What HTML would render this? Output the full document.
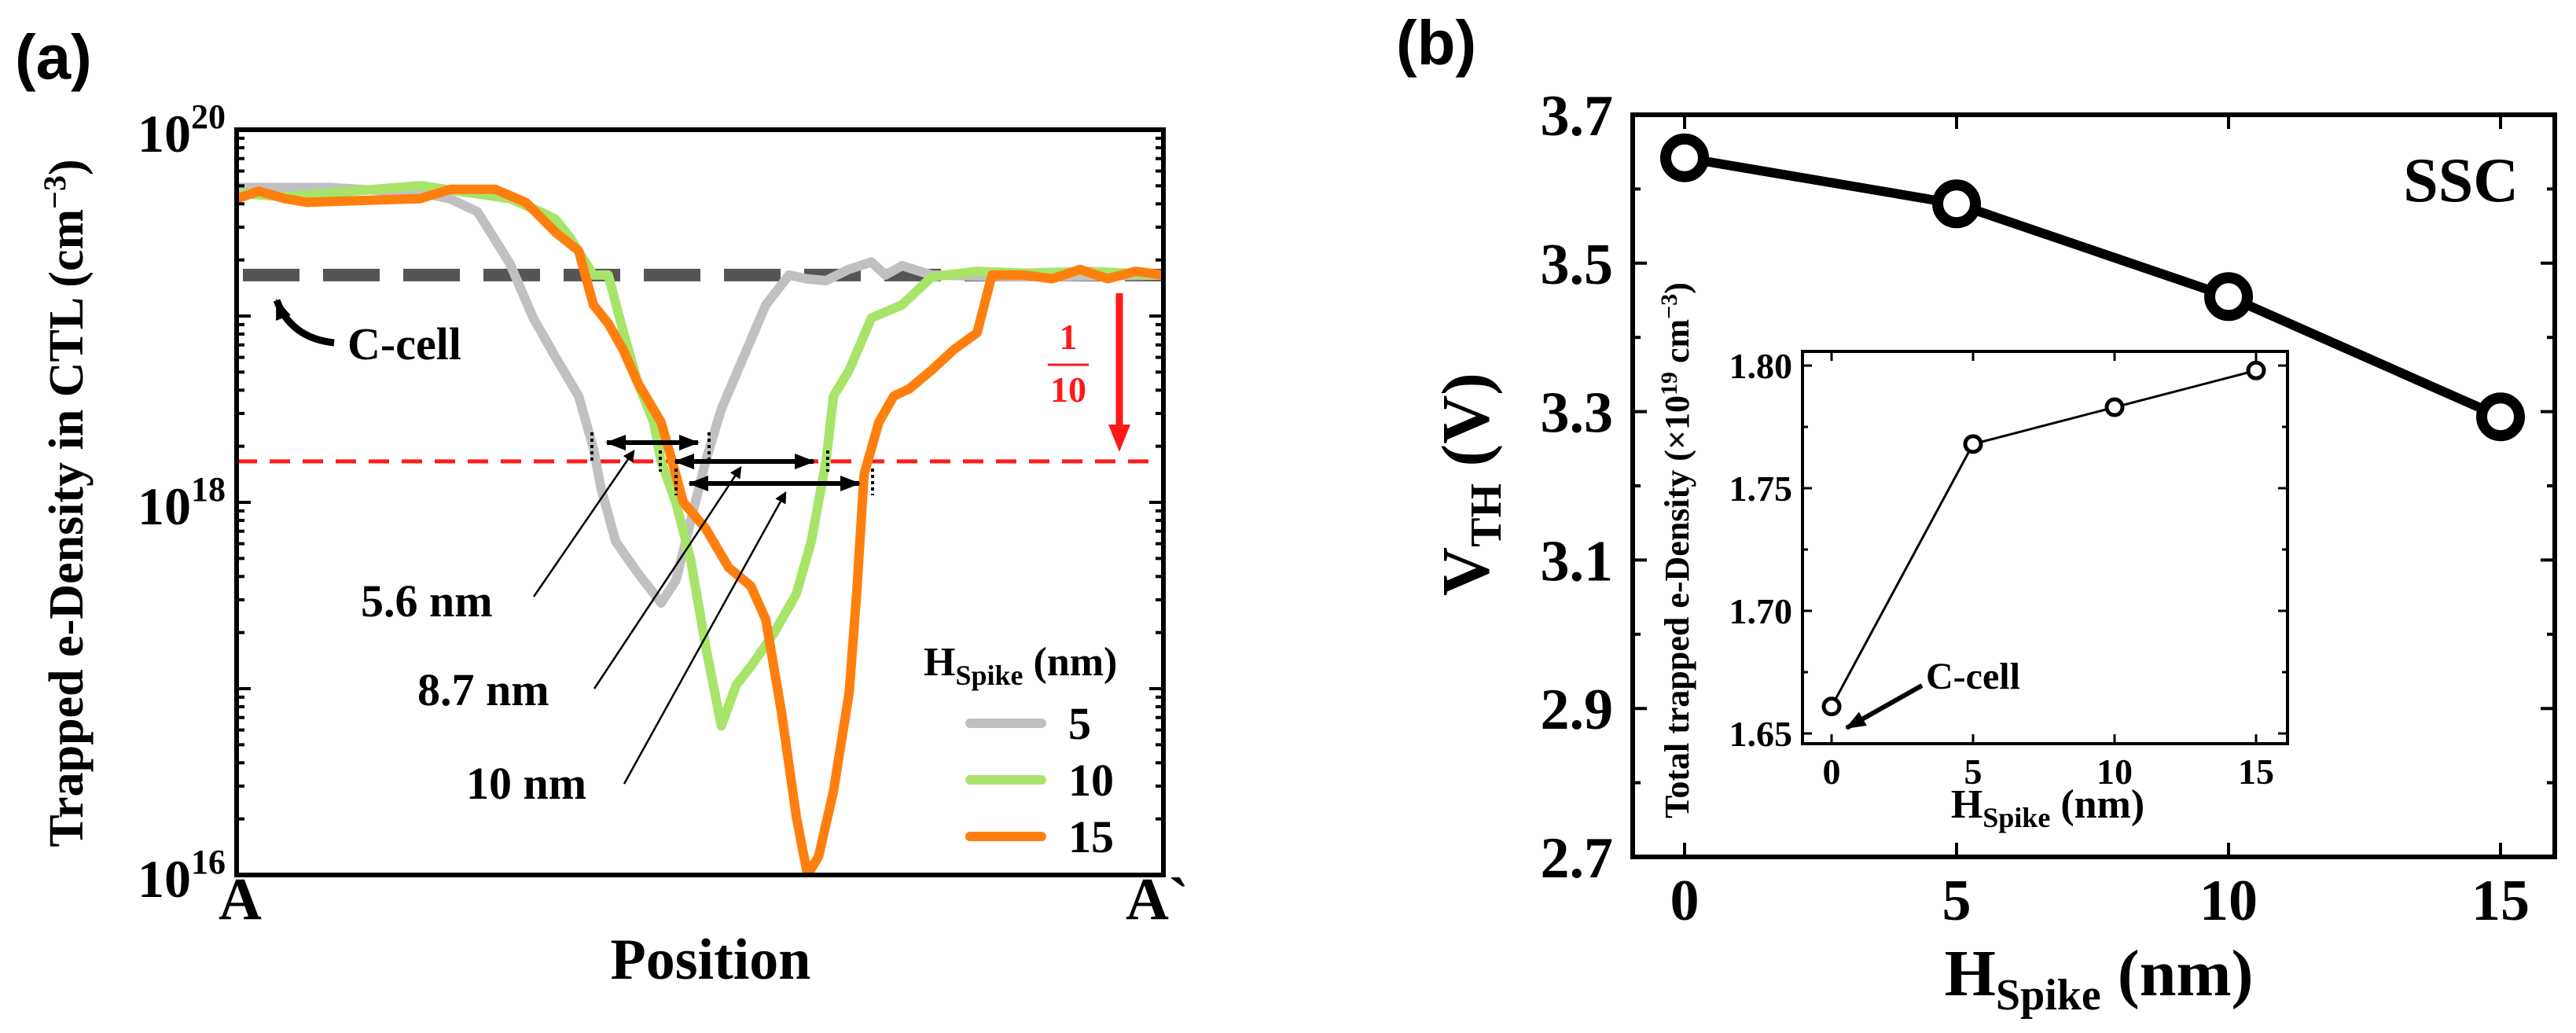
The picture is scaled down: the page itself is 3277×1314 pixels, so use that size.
<!DOCTYPE html>
<html><head><meta charset="utf-8">
<style>
html,body{margin:0;padding:0;background:#fff;}
svg{display:block;}
text{font-family:"Liberation Serif",serif;font-weight:bold;fill:#000;}
.sans{font-family:"Liberation Sans",sans-serif;}
</style></head>
<body>
<svg id="fig" width="3277" height="1314" viewBox="0 0 3277 1314" xmlns="http://www.w3.org/2000/svg">
<defs>
<marker id="ah" markerWidth="6" markerHeight="6" refX="5" refY="3" orient="auto" markerUnits="strokeWidth"><path d="M0,0 L6,3 L0,6 Z" fill="#000"/></marker>
<marker id="ahb" markerWidth="26" markerHeight="26" refX="24" refY="13" orient="auto" markerUnits="userSpaceOnUse"><path d="M0,3 L26,13 L0,23 Z" fill="#000"/></marker>
<marker id="ahbs" markerWidth="26" markerHeight="26" refX="2" refY="13" orient="auto" markerUnits="userSpaceOnUse"><path d="M26,3 L0,13 L26,23 Z" fill="#000"/></marker>
</defs>
<text class="sans" x="19" y="100" font-size="80">(a)</text>
<text class="sans" x="1776" y="82" font-size="80">(b)</text>
<g id="pa"></g>
<g id="pb"></g>
<g id="pi"></g>
</svg>
<script>
// ---------- Panel (a) data ----------
const grayPos = [0,10,20,23,26,29.5,32,34.4,36.9,38.5,39.3,40.9,43.3,45.8,47.4,49,50.6,52.3,54.7,57.1,59.6,61.5,63.6,66,68.5,70,71.8,75,85,100];
const grayLog = [19.69,19.69,19.66,19.63,19.56,19.28,18.99,18.78,18.57,18.29,18.08,17.79,17.62,17.46,17.58,17.90,18.22,18.50,18.78,19.06,19.22,19.20,19.19,19.25,19.29,19.22,19.27,19.22,19.21,19.22];
const greenPos = [0,5,10,19.8,29.5,32.8,34.4,36,38.5,40.1,41.7,43.3,45,45.8,47.4,49,50.6,52.3,53.9,55.5,58,60.4,62,63.6,64.4,66.1,68.5,71.8,75,79.9,85,92,100];
const greenLog = [19.66,19.64,19.66,19.70,19.63,19.56,19.52,19.42,19.22,19.22,18.92,18.64,18.43,18.22,18.00,17.69,17.23,16.80,17.02,17.12,17.30,17.51,17.79,18.22,18.57,18.71,18.99,19.06,19.21,19.24,19.23,19.24,19.22];
const orangePos = [0,2.4,5.2,7.6,13.3,19.8,23.1,27.9,31.2,34.4,36.9,38.5,40.1,41.7,43.3,45.8,47,48.2,50.6,53.1,55.5,57.1,58.8,60.4,61.6,62.8,64.4,66.1,66.9,67.7,69.3,70.9,72.6,75,77.4,79.9,81.5,85,88,91,94,97,100];
const orangeLog = [19.63,19.67,19.63,19.61,19.62,19.63,19.68,19.68,19.61,19.45,19.35,19.06,18.96,18.82,18.64,18.43,18.22,18.00,17.86,17.65,17.55,17.37,16.87,16.31,16.00,16.10,16.45,16.98,17.51,18.15,18.43,18.57,18.61,18.71,18.82,18.91,19.22,19.22,19.20,19.25,19.20,19.24,19.22];
const ccellLog = 19.22;
const tenthLog = 18.22;
const yTickExp = [20,18,16];
const legendLabels = ["5","10","15"];
const seriesColors = ["#c0c0c0","#a8e46a","#ff7f0e"];

// ---------- Panel (b) data ----------
const hSpike = [0,5,10,15];
const vth = [3.642,3.58,3.455,3.293];
const vthTicks = ["2.7","2.9","3.1","3.3","3.5","3.7"];
const hTicks = [0,5,10,15];
// ---------- Inset data ----------
const insetH = [0,5,10,15];
const insetDensity = [1.661,1.768,1.783,1.798];
const insetTicks = ["1.65","1.70","1.75","1.80"];

const NS="http://www.w3.org/2000/svg";
function mk(parent,tag,attrs,txt){const e=document.createElementNS(NS,tag);for(const k in attrs)e.setAttribute(k,attrs[k]);if(txt!==undefined)e.textContent=txt;parent.appendChild(e);return e;}

// ===== Panel A =====
const A={l:301,r:1480,t:165,b:1113};
const ax=p=>A.l+(A.r-A.l)*p/100;
const ay=v=>A.t+(A.b-A.t)*(20-v)/4;
const pa=document.getElementById('pa');
const cp=mk(document.querySelector('defs'),'clipPath',{id:'clipA'});
mk(cp,'rect',{x:A.l,y:A.t,width:A.r-A.l,height:A.b-A.t});
let el=mk(pa,'line',{x1:A.l+8,x2:A.r,y1:ay(ccellLog),y2:ay(ccellLog),stroke:'#555',"stroke-width":16,"stroke-dasharray":"72 30"});


el=mk(pa,'line',{x1:A.l,x2:A.r,y1:ay(tenthLog),y2:ay(tenthLog),stroke:'#ff1a1a',"stroke-width":5,"stroke-dasharray":"26 16"});


const series=[[grayPos,grayLog,'series-h5'],[greenPos,greenLog,'series-h10'],[orangePos,orangeLog,'series-h15']];
series.forEach((s,i)=>{
  const d=s[0].map((p,j)=>(j?'L':'M')+ax(p).toFixed(1)+','+ay(s[1][j]).toFixed(1)).join(' ');
  const path=mk(pa,'path',{d:d,fill:'none',stroke:seriesColors[i],"stroke-width":12,"stroke-linejoin":"round","clip-path":"url(#clipA)"});
  
  
});
el=mk(pa,'rect',{x:A.l,y:A.t,width:A.r-A.l,height:A.b-A.t,fill:'none',stroke:'#000',"stroke-width":6});


for(let dec=16;dec<20;dec++){
  for(let m=1;m<10;m++){
    const v=dec+Math.log10(m);const y=ay(v);const len=m===1?18:10;
    mk(pa,'line',{x1:A.l,x2:A.l+len,y1:y,y2:y,stroke:'#000',"stroke-width":4});
    mk(pa,'line',{x1:A.r-len,x2:A.r,y1:y,y2:y,stroke:'#000',"stroke-width":4});
  }
}
yTickExp.forEach(e=>{
  const t=mk(pa,'text',{x:287,y:ay(e)+28,"font-size":68,"text-anchor":"end"});
  
  
  mk(t,'tspan',{},'10');
  mk(t,'tspan',{dy:-30,"font-size":44},String(e));
});
el=mk(pa,'text',{x:278,y:1169,"font-size":76},'A');


el=mk(pa,'text',{x:1432,y:1169,"font-size":76},'A`');


el=mk(pa,'text',{x:904,y:1245,"font-size":74,"text-anchor":"middle"},'Position');


el=mk(pa,'text',{x:0,y:0,"font-size":62,"text-anchor":"middle",transform:'translate(105,640) rotate(-90)'});


mk(el,'tspan',{},'Trapped e-Density in CTL (cm');
mk(el,'tspan',{dy:-22,"font-size":40},'−3');
mk(el,'tspan',{dy:22},')');
el=mk(pa,'text',{x:442,y:457,"font-size":58},'C-cell');


el=mk(pa,'path',{d:'M425,436 Q370,430 352,382',fill:'none',stroke:'#000',"stroke-width":9,"marker-end":'url(#ahb)'});


el=mk(pa,'g',{});


mk(el,'text',{x:1359,y:444,"font-size":46,"text-anchor":"middle",style:'fill:#ff1a1a'},'1');
mk(el,'line',{x1:1333,x2:1385,y1:464,y2:464,stroke:'#ff1a1a',"stroke-width":3});
mk(el,'text',{x:1359,y:511,"font-size":46,"text-anchor":"middle",style:'fill:#ff1a1a'},'10');
mk(el,'line',{x1:1424,x2:1424,y1:373,y2:545,stroke:'#ff1a1a',"stroke-width":9});
mk(el,'path',{d:'M1410,540 L1438,540 L1424,575 Z',fill:'#ff1a1a'});
const wArr=[[760,900,563,753,902,550,590],[847,1047,587,840,1053,573,600],[865,1105,615,860,1110,596,630]];
wArr.forEach(a=>{
  const g=mk(pa,'g',{});
  
  
  mk(g,'line',{x1:a[0]+12,x2:a[1]-12,y1:a[2],y2:a[2],stroke:'#000',"stroke-width":6,"marker-end":'url(#ahb)',"marker-start":'url(#ahbs)'});
  mk(g,'line',{x1:a[3],x2:a[3],y1:a[5],y2:a[6],stroke:'#000',"stroke-width":4,"stroke-dasharray":"4 4"});
  mk(g,'line',{x1:a[4],x2:a[4],y1:a[5],y2:a[6],stroke:'#000',"stroke-width":4,"stroke-dasharray":"4 4"});
});
const labs=[['5.6 nm',459,784,679,759,806,574],['8.7 nm',531,897,756,876,942,595],['10 nm',593,1016,794,997,999,627]];
labs.forEach(l=>{
  const t=mk(pa,'text',{x:l[1],y:l[2],"font-size":58},l[0]);
  
  
  const ln=mk(pa,'line',{x1:l[3],y1:l[4],x2:l[5],y2:l[6],stroke:'#000',"stroke-width":2.5,"marker-end":'url(#ah)'});
  
  
});
el=mk(pa,'text',{x:1175,y:859,"font-size":52});


mk(el,'tspan',{},'H');
mk(el,'tspan',{dy:12,"font-size":36},'Spike');
mk(el,'tspan',{dy:-12},' (nm)');
legendLabels.forEach((lab,i)=>{
  const y=920+i*72;
  const g=mk(pa,'g',{});
  
  
  mk(g,'line',{x1:1234,x2:1325,y1:y,y2:y,stroke:seriesColors[i],"stroke-width":12,"stroke-linecap":"round"});
  mk(g,'text',{x:1359,y:y+20,"font-size":58},lab);
});

// ===== Panel B =====
const B={l:2077,r:3250,t:146,b:1090};
const bx=h=>2143+(3181-2143)*h/15;
const by=v=>B.t+(B.b-B.t)*(3.7-v)/1.0;
const pb=document.getElementById('pb');
el=mk(pb,'rect',{x:B.l,y:B.t,width:B.r-B.l,height:B.b-B.t,fill:'none',stroke:'#000',"stroke-width":6});


for(let k=0;k<=10;k++){
  const y=by(2.7+k*0.1);const len=k%2===0?18:10;
  mk(pb,'line',{x1:B.l,x2:B.l+len,y1:y,y2:y,stroke:'#000',"stroke-width":4});
  mk(pb,'line',{x1:B.r-len,x2:B.r,y1:y,y2:y,stroke:'#000',"stroke-width":4});
}
vthTicks.forEach(s=>{
  const t=mk(pb,'text',{x:2052,y:by(parseFloat(s))+26,"font-size":74,"text-anchor":"end"},s);
  
  
});
hTicks.forEach(h=>{
  mk(pb,'line',{x1:bx(h),x2:bx(h),y1:B.b-18,y2:B.b,stroke:'#000',"stroke-width":4});
  mk(pb,'line',{x1:bx(h),x2:bx(h),y1:B.t,y2:B.t+18,stroke:'#000',"stroke-width":4});
  const t=mk(pb,'text',{x:bx(h),y:1170,"font-size":74,"text-anchor":"middle"},String(h));
  
  
});
el=mk(pb,'polyline',{points:hSpike.map((h,i)=>bx(h)+','+by(vth[i])).join(' '),fill:'none',stroke:'#000',"stroke-width":12});


hSpike.forEach((h,i)=>{
  const c=mk(pb,'circle',{cx:bx(h),cy:by(vth[i]),r:24,fill:'#fff',stroke:'#000',"stroke-width":14});
  
  
});
el=mk(pb,'text',{x:3204,y:256,"font-size":80,"text-anchor":"end"},'SSC');


el=mk(pb,'text',{x:0,y:0,"font-size":86,"text-anchor":"middle",transform:'translate(1893,616) rotate(-90)'});


mk(el,'tspan',{},'V');
mk(el,'tspan',{dy:16,"font-size":56},'TH');
mk(el,'tspan',{dy:-16},' (V)');
el=mk(pb,'text',{x:2670,y:1266,"font-size":84,"text-anchor":"middle"});


mk(el,'tspan',{},'H');
mk(el,'tspan',{dy:18,"font-size":56},'Spike');
mk(el,'tspan',{dy:-18},' (nm)');

// ===== Inset =====
const I={l:2293,r:2910,t:447,b:946};
const ix=h=>2330+(2870-2330)*h/15;
const iy=v=>465+(933-465)*(1.80-v)/0.15;
const pi=document.getElementById('pi');
el=mk(pi,'rect',{x:I.l,y:I.t,width:I.r-I.l,height:I.b-I.t,fill:'#fff',stroke:'#000',"stroke-width":4});


for(let k=0;k<=6;k++){
  const v=1.65+k*0.025;const y=iy(v);const len=k%2===0?12:7;
  mk(pi,'line',{x1:I.l,x2:I.l+len,y1:y,y2:y,stroke:'#000',"stroke-width":3});
  mk(pi,'line',{x1:I.r-len,x2:I.r,y1:y,y2:y,stroke:'#000',"stroke-width":3});
}
insetTicks.forEach(s=>{
  const t=mk(pi,'text',{x:2280,y:iy(parseFloat(s))+16,"font-size":46,"text-anchor":"end"},s);
  
  
});
hTicks.forEach(h=>{
  mk(pi,'line',{x1:ix(h),x2:ix(h),y1:I.b-12,y2:I.b,stroke:'#000',"stroke-width":3});
  mk(pi,'line',{x1:ix(h),x2:ix(h),y1:I.t,y2:I.t+12,stroke:'#000',"stroke-width":3});
  const t=mk(pi,'text',{x:ix(h),y:997,"font-size":46,"text-anchor":"middle"},String(h));
  
  
});
el=mk(pi,'polyline',{points:insetH.map((h,i)=>ix(h)+','+iy(insetDensity[i])).join(' '),fill:'none',stroke:'#000',"stroke-width":3});


insetH.forEach((h,i)=>{
  const c=mk(pi,'circle',{cx:ix(h),cy:iy(insetDensity[i]),r:10,fill:'#fff',stroke:'#000',"stroke-width":5});
  
  
});
el=mk(pi,'text',{x:2450,y:876,"font-size":48},'C-cell');


el=mk(pi,'line',{x1:2445,y1:872,x2:2349,y2:926,stroke:'#000',"stroke-width":6,"marker-end":'url(#ahb)'});


el=mk(pi,'text',{x:0,y:0,"font-size":44,"text-anchor":"middle",transform:'translate(2148,700) rotate(-90)'});


mk(el,'tspan',{},'Total trapped e-Density (×10');
mk(el,'tspan',{dy:-15,"font-size":30},'19');
mk(el,'tspan',{dy:15},' cm');
mk(el,'tspan',{dy:-15,"font-size":30},'−3');
mk(el,'tspan',{dy:15},')');
el=mk(pi,'text',{x:2605,y:1040,"font-size":52,"text-anchor":"middle"});


mk(el,'tspan',{},'H');
mk(el,'tspan',{dy:12,"font-size":36},'Spike');
mk(el,'tspan',{dy:-12},' (nm)');
</script>
</body></html>
